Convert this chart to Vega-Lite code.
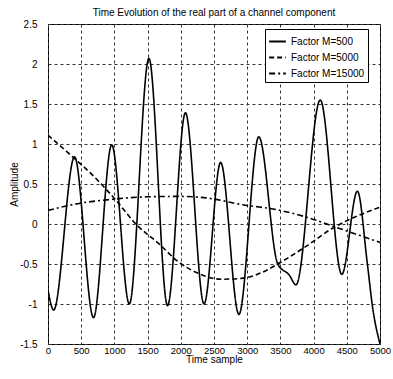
{
  "$schema": "https://vega.github.io/schema/vega-lite/v6.json",
  "autosize": "none",
  "width": 332,
  "height": 320,
  "padding": {"left": 48, "top": 24, "right": 13, "bottom": 35},
  "background": "white",
  "config": {
    "font": "Liberation Sans Narrow, Liberation Sans, Arial",
    "view": {"stroke": "black", "strokeWidth": 1}
  },
  "title": {
    "text": "Time Evolution of the real part of a channel component",
    "fontSize": 10,
    "fontWeight": "normal",
    "color": "black",
    "offset": 1,
    "anchor": "middle"
  },
  "data": {
    "values": [
      {"s": "Factor M=500", "x": 0, "y": -0.825},
      {"s": "Factor M=500", "x": 85, "y": -1.075},
      {"s": "Factor M=500", "x": 400, "y": 0.84},
      {"s": "Factor M=500", "x": 685, "y": -1.17},
      {"s": "Factor M=500", "x": 960, "y": 0.99},
      {"s": "Factor M=500", "x": 1225, "y": -1.0},
      {"s": "Factor M=500", "x": 1520, "y": 2.07},
      {"s": "Factor M=500", "x": 1800, "y": -1.02},
      {"s": "Factor M=500", "x": 2070, "y": 1.39},
      {"s": "Factor M=500", "x": 2350, "y": -1.0},
      {"s": "Factor M=500", "x": 2600, "y": 0.77},
      {"s": "Factor M=500", "x": 2875, "y": -1.13},
      {"s": "Factor M=500", "x": 3175, "y": 1.09},
      {"s": "Factor M=500", "x": 3460, "y": -0.5},
      {"s": "Factor M=500", "x": 3635, "y": -0.64},
      {"s": "Factor M=500", "x": 3735, "y": -0.76},
      {"s": "Factor M=500", "x": 4100, "y": 1.55},
      {"s": "Factor M=500", "x": 4425, "y": -0.63},
      {"s": "Factor M=500", "x": 4660, "y": 0.41},
      {"s": "Factor M=500", "x": 4810, "y": -0.5},
      {"s": "Factor M=500", "x": 4890, "y": -1.05},
      {"s": "Factor M=500", "x": 5000, "y": -1.5},

      {"s": "Factor M=5000", "x": 0, "y": 1.11},
      {"s": "Factor M=5000", "x": 410, "y": 0.81},
      {"s": "Factor M=5000", "x": 660, "y": 0.62},
      {"s": "Factor M=5000", "x": 1010, "y": 0.31},
      {"s": "Factor M=5000", "x": 1335, "y": -0.01},
      {"s": "Factor M=5000", "x": 1660, "y": -0.24},
      {"s": "Factor M=5000", "x": 1960, "y": -0.47},
      {"s": "Factor M=5000", "x": 2270, "y": -0.62},
      {"s": "Factor M=5000", "x": 2610, "y": -0.69},
      {"s": "Factor M=5000", "x": 2910, "y": -0.68},
      {"s": "Factor M=5000", "x": 3210, "y": -0.61},
      {"s": "Factor M=5000", "x": 3460, "y": -0.5},
      {"s": "Factor M=5000", "x": 3885, "y": -0.28},
      {"s": "Factor M=5000", "x": 4310, "y": -0.04},
      {"s": "Factor M=5000", "x": 4660, "y": 0.1},
      {"s": "Factor M=5000", "x": 5000, "y": 0.21},

      {"s": "Factor M=15000", "x": 0, "y": 0.17},
      {"s": "Factor M=15000", "x": 485, "y": 0.26},
      {"s": "Factor M=15000", "x": 985, "y": 0.31},
      {"s": "Factor M=15000", "x": 1500, "y": 0.34},
      {"s": "Factor M=15000", "x": 2000, "y": 0.345},
      {"s": "Factor M=15000", "x": 2435, "y": 0.32},
      {"s": "Factor M=15000", "x": 2935, "y": 0.24},
      {"s": "Factor M=15000", "x": 3435, "y": 0.18},
      {"s": "Factor M=15000", "x": 3935, "y": 0.075},
      {"s": "Factor M=15000", "x": 4335, "y": -0.04},
      {"s": "Factor M=15000", "x": 5000, "y": -0.23}
    ]
  },
  "mark": {"type": "line", "interpolate": "monotone", "color": "black", "strokeWidth": 1.6, "clip": true},
  "encoding": {
    "x": {
      "field": "x", "type": "quantitative",
      "scale": {"domain": [0, 5000], "nice": false},
      "axis": {
        "values": [0, 500, 1000, 1500, 2000, 2500, 3000, 3500, 4000, 4500, 5000],
        "title": "Time sample",
        "titleFontSize": 10, "titleFontWeight": "normal", "titleColor": "black", "titlePadding": 0,
        "labelFontSize": 9.5, "labelColor": "black", "labelPadding": 1,
        "labelExpr": "toString(datum.value)",
        "ticks": false, "domain": false,
        "grid": true, "gridColor": "#333", "gridDash": [3, 3], "gridWidth": 1,
        "labelFlush": false, "labelOverlap": false
      }
    },
    "y": {
      "field": "y", "type": "quantitative",
      "scale": {"domain": [-1.5, 2.5], "nice": false},
      "axis": {
        "values": [-1.5, -1, -0.5, 0, 0.5, 1, 1.5, 2, 2.5],
        "title": "Amplitude",
        "titleFontSize": 10, "titleFontWeight": "normal", "titleColor": "black", "titlePadding": 0,
        "labelFontSize": 10, "labelColor": "black", "labelPadding": 11,
        "labelExpr": "toString(datum.value)",
        "ticks": false, "domain": false,
        "grid": true, "gridColor": "#333", "gridDash": [3, 3], "gridWidth": 1,
        "labelFlush": false, "labelOverlap": false
      }
    },
    "strokeDash": {
      "field": "s", "type": "nominal",
      "scale": {
        "domain": ["Factor M=500", "Factor M=5000", "Factor M=15000"],
        "range": [[1, 0], [5, 3], [6, 3, 2, 3]]
      },
      "legend": {
        "title": null,
        "orient": "none", "legendX": 217, "legendY": 5,
        "symbolType": "stroke", "symbolStrokeWidth": 2, "symbolSize": 280,
        "symbolStrokeColor": "black",
        "labelFontSize": 10, "labelColor": "black", "labelOffset": 4,
        "rowPadding": 1, "padding": 3,
        "strokeColor": "black", "fillColor": "white", "cornerRadius": 0
      }
    }
  }
}
